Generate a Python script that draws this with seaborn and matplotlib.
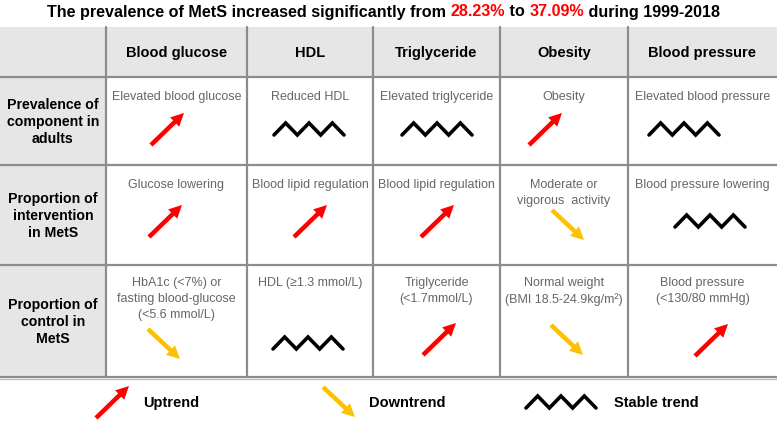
import matplotlib
matplotlib.use("Agg")
import matplotlib.pyplot as plt
import seaborn as sns
from matplotlib import font_manager as fm

# ========================
# DATA
# ========================
TITLE_PARTS = ["The prevalence of MetS increased significantly from ", "28.23%", " to ", "37.09%", " during 1999-2018"]
TITLE_COLORS = ["black", "#FF0000", "black", "#FF0000", "black"]

COMPONENTS = ["Blood glucose", "HDL", "Triglyceride", "Obesity", "Blood pressure"]
MEASURES = ["Prevalence of\ncomponent in\nadults",
            "Proportion of\nintervention\nin MetS",
            "Proportion of\ncontrol in\nMetS"]

PREVALENCE_TEXT = ["Elevated blood glucose", "Reduced HDL", "Elevated triglyceride",
                   "Obesity", "Elevated blood pressure"]
INTERVENTION_TEXT = ["Glucose lowering", "Blood lipid regulation", "Blood lipid regulation",
                     "Moderate or\nvigorous  activity", "Blood pressure lowering"]
CONTROL_TEXT = ["HbA1c (<7%) or\nfasting blood-glucose\n(<5.6 mmol/L)", "HDL (\u22651.3 mmol/L)",
                "Triglyceride\n(<1.7mmol/L)", "Normal weight\n(BMI 18.5-24.9kg/m\u00b2)",
                "Blood pressure\n(<130/80 mmHg)"]

PREVALENCE_TREND = ["up", "stable", "stable", "up", "stable"]
INTERVENTION_TREND = ["up", "up", "up", "down", "stable"]
CONTROL_TREND = ["down", "stable", "up", "down", "up"]

LEGEND_LABELS = ["Uptrend", "Downtrend", "Stable trend"]
LEGEND_TRENDS = ["up", "down", "stable"]

# ========================
# LAYOUT (pixels)
# ========================
COL_EDGES = [0, 106, 247, 373, 500, 628, 777]
ROW_EDGES = [28, 78, 166, 266, 378]
ICON_Y = [130, 222, 342]
ICON_DX = [[-9.5, -1, 0.5, -19, -18.5],
           [-11.5, 0, 0.5, 4, 7.5],
           [-12.5, -2, 2.5, 3, 8.5]]
ICON_DY = [[0, 0, 0, 0, 0],
           [0, 0, 0, 4, 0],
           [3, 2, -2, -1, -1]]
TEXT_DY = [13, 13, 11]
LEGEND_ICON_X = [112, 339, 561]
LEGEND_TEXT_X = [143, 369, 614]
LEGEND_Y = 403

GRAY_FILL = "#E6E6E6"
GRID = "#8C8C8C"
CELL_TEXT = "#666666"
UP_COLOR = "#FF0000"
DOWN_COLOR = "#FFC000"

sns.set_theme(style="white")
names = {f.name for f in fm.fontManager.ttflist}
NARROW = "Liberation Sans Narrow" if "Liberation Sans Narrow" in names else "Liberation Sans"
plt.rcParams["font.family"] = ["Liberation Sans", "DejaVu Sans"]

fig = plt.figure(figsize=(7.77, 4.27), dpi=100)
ax = fig.add_axes([0, 0, 1, 1])
ax.set_xlim(0, 777)
ax.set_ylim(427, 0)
ax.axis("off")


def draw_icon(trend, cx, cy):
    if trend == "up":
        ax.arrow(cx - 16, cy + 16, 33, -32, width=4.5, head_width=13, head_length=13,
                 length_includes_head=True, color=UP_COLOR, lw=0, zorder=3)
    elif trend == "down":
        ax.arrow(cx - 16, cy - 15, 32, 30, width=4.5, head_width=13, head_length=13,
                 length_includes_head=True, color=DOWN_COLOR, lw=0, zorder=3)
    else:
        zx = [cx - 35 + i * 70 / 6 for i in range(7)]
        zy = [cy + (6 if i % 2 == 0 else -6) for i in range(7)]
        sns.lineplot(x=zx, y=zy, sort=False, estimator=None, color="black",
                     lw=2.6, ax=ax, solid_joinstyle="miter", zorder=3)


# cell backgrounds
ax.fill_between([COL_EDGES[0], COL_EDGES[-1]], ROW_EDGES[0], ROW_EDGES[1], color=GRAY_FILL, lw=0)
ax.fill_between([COL_EDGES[0], COL_EDGES[1]], ROW_EDGES[1], ROW_EDGES[-1], color=GRAY_FILL, lw=0)

# grid lines
for y in ROW_EDGES[1:]:
    ax.plot([COL_EDGES[0], COL_EDGES[-1]], [y, y], color=GRID, lw=1.6, zorder=2)
ax.plot([COL_EDGES[0], COL_EDGES[-1]], [ROW_EDGES[-1] + 1.5] * 2, color="#BBBBBB", lw=1.0, zorder=2)
for x in COL_EDGES[1:-1]:
    ax.plot([x, x], [ROW_EDGES[0], ROW_EDGES[-1]], color=GRID, lw=1.6, zorder=2)

# header
for j, name in enumerate(COMPONENTS):
    cx = (COL_EDGES[j + 1] + COL_EDGES[j + 2]) / 2
    ax.text(cx, (ROW_EDGES[0] + ROW_EDGES[1]) / 2, name, ha="center", va="center",
            fontsize=10.5, fontweight="bold", family=NARROW, color="black")

# rows
texts = [PREVALENCE_TEXT, INTERVENTION_TEXT, CONTROL_TEXT]
trends = [PREVALENCE_TREND, INTERVENTION_TREND, CONTROL_TREND]
for i, label in enumerate(MEASURES):
    top, bottom = ROW_EDGES[i + 1], ROW_EDGES[i + 2]
    ax.text((COL_EDGES[0] + COL_EDGES[1]) / 2, (top + bottom) / 2, label, ha="center",
            va="center", fontsize=10.2, fontweight="bold", linespacing=1.25, color="black")
    for j in range(len(COMPONENTS)):
        cx = (COL_EDGES[j + 1] + COL_EDGES[j + 2]) / 2
        ax.text(cx, top + TEXT_DY[i], texts[i][j], ha="center", va="top", fontsize=9,
                linespacing=1.45, color=CELL_TEXT)
        draw_icon(trends[i][j], cx + ICON_DX[i][j], ICON_Y[i] + ICON_DY[i][j])

# legend
for k, lab in enumerate(LEGEND_LABELS):
    draw_icon(LEGEND_TRENDS[k], LEGEND_ICON_X[k], LEGEND_Y)
    ax.text(LEGEND_TEXT_X[k], LEGEND_Y, lab, ha="left", va="center", fontsize=10.5,
            fontweight="bold", family=NARROW, color="black")

# title with coloured numbers
prev = None
pieces = []
for s, c in zip(TITLE_PARTS, TITLE_COLORS):
    if prev is None:
        t = ax.text(0, 12, s, ha="left", va="center", fontsize=11.6, fontweight="bold",
                    family=NARROW, color=c)
    else:
        t = ax.annotate(s, xy=(1, 0), xycoords=prev, ha="left", va="bottom",
                        fontsize=11.6, fontweight="bold", family=NARROW, color=c)
    pieces.append(t)
    prev = t
fig.canvas.draw()
r = fig.canvas.get_renderer()
left = pieces[0].get_window_extent(r).x0
right = pieces[-1].get_window_extent(r).x1
pieces[0].set_x(48 + (671 - (right - left)) / 2)

fig.savefig("out.png", dpi=100)
